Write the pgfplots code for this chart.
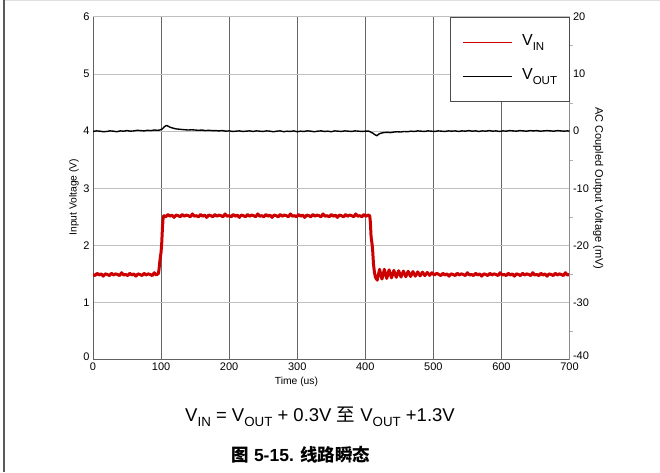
\documentclass[border=0pt]{standalone}
\usepackage{fontspec}
\setmainfont{Liberation Sans}
\newfontfamily\cjk{Noto Sans CJK SC}
\usepackage{pgfplots}
\pgfplotsset{compat=1.18}
\definecolor{vin}{RGB}{204,0,0}
\newcommand\sub[1]{\raisebox{-0.27em}{\scalebox{0.72}{#1}}}

\begin{document}
\begin{tikzpicture}[x=1pt,y=1pt]
\path[use as bounding box] (0,0) rectangle (660,472);
\draw[black!12] (4,471.5) -- (660,471.5);
\draw[black!65,line width=1.5pt] (4,0) -- (4,472);

\begin{axis}[
  at={(93pt,112.5pt)}, anchor=south west,
  width=476.5pt, height=342.5pt, scale only axis,
  xmin=0, xmax=700, ymin=0, ymax=6,
  xtick={0,100,...,700}, ytick={1,2,...,6},
  extra y ticks={0}, extra y tick style={grid=none, tick label style={yshift=2.5pt}},
  grid=major,
  x grid style={black!60, line width=1pt},
  y grid style={black!25, line width=1pt},
  axis x line*=bottom, axis y line*=left,
  axis line style={-, draw=black!62, line width=1pt},
  major tick length=0pt,
  tick label style={font=\fontsize{11}{13}\selectfont},
  /pgf/number format/assume math mode=true,
  xlabel={Time (us)}, ylabel={Input Voltage (V)},
  label style={font=\fontsize{10.3}{12}\selectfont},
  xlabel style={at={(axis description cs:0.427,0)}, anchor=center, yshift=-22pt},
  ylabel style={at={(axis description cs:-0.04,0.474)}, anchor=center},
]
\addplot[vin, line width=3pt, line join=round] coordinates {
(0,1.49)(3,1.47)(6,1.51)(9,1.48)(12,1.50)(15,1.46)(18,1.50)(21,1.49)(24,1.47)(27,1.51)
(30,1.48)(33,1.50)(36,1.49)(39,1.47)(42,1.52)(45,1.48)(48,1.49)(51,1.47)(54,1.51)(57,1.48)
(60,1.50)(63,1.46)(66,1.50)(69,1.49)(72,1.47)(75,1.51)(78,1.48)(81,1.50)(84,1.49)(87,1.47)
(90,1.52)(93,1.48)(95,1.50)
(96,1.50)(97,1.58)(98,1.70)(99,1.80)(100,1.88)(101,2.05)(102,2.30)(103,2.48)
(104,2.52)(107,2.50)(110,2.54)(113,2.51)(116,2.53)(119,2.49)(122,2.53)(125,2.52)
(128,2.50)(131,2.54)(134,2.51)(137,2.53)(140,2.52)(143,2.50)(146,2.55)(149,2.51)
(152,2.52)(155,2.50)(158,2.54)(161,2.51)(164,2.53)(167,2.49)(170,2.53)(173,2.52)
(176,2.50)(179,2.54)(182,2.51)(185,2.53)(188,2.52)(191,2.50)(194,2.55)(197,2.51)
(200,2.52)(203,2.50)(206,2.54)(209,2.51)(212,2.53)(215,2.49)(218,2.53)(221,2.52)
(224,2.50)(227,2.54)(230,2.51)(233,2.53)(236,2.52)(239,2.50)(242,2.55)(245,2.51)
(248,2.52)(251,2.50)(254,2.54)(257,2.51)(260,2.53)(263,2.49)(266,2.53)(269,2.52)
(272,2.50)(275,2.54)(278,2.51)(281,2.53)(284,2.52)(287,2.50)(290,2.55)(293,2.51)
(296,2.52)(299,2.50)(302,2.54)(305,2.51)(308,2.53)(311,2.49)(314,2.53)(317,2.52)
(320,2.50)(323,2.54)(326,2.51)(329,2.53)(332,2.52)(335,2.50)(338,2.55)(341,2.51)
(344,2.52)(347,2.50)(350,2.54)(353,2.51)(356,2.53)(359,2.49)(362,2.53)(365,2.52)
(368,2.50)(371,2.54)(374,2.51)(377,2.53)(380,2.52)(383,2.50)(386,2.55)(389,2.51)
(392,2.52)(395,2.50)(398,2.54)(401,2.51)(404,2.53)
(406.5,2.52)(407.5,2.40)(408.5,2.15)(410,2.02)(411,1.88)(412,1.68)(413.5,1.52)(415,1.44)(417.5,1.39)
(421,1.58)(424.5,1.41)(428,1.58)(431.5,1.42)(435,1.57)(438.5,1.43)(442,1.56)(445.5,1.44)
(449,1.555)(452.5,1.445)(456,1.55)(459.5,1.45)(463,1.545)(466.5,1.455)(470,1.54)(473.5,1.46)
(477,1.535)(480.5,1.465)(484,1.53)(487.5,1.47)(491,1.525)(494.5,1.475)(498,1.52)(501.5,1.48)(505,1.51)
(508,1.49)(511,1.47)(514,1.51)(517,1.48)(520,1.50)(523,1.46)(526,1.50)(529,1.49)
(532,1.47)(535,1.51)(538,1.48)(541,1.50)(544,1.49)(547,1.47)(550,1.52)(553,1.48)
(556,1.49)(559,1.47)(562,1.51)(565,1.48)(568,1.50)(571,1.46)(574,1.50)(577,1.49)
(580,1.47)(583,1.51)(586,1.48)(589,1.50)(592,1.49)(595,1.47)(598,1.52)(601,1.48)
(604,1.49)(607,1.47)(610,1.51)(613,1.48)(616,1.50)(619,1.46)(622,1.50)(625,1.49)
(628,1.47)(631,1.51)(634,1.48)(637,1.50)(640,1.49)(643,1.47)(646,1.52)(649,1.48)
(652,1.49)(655,1.47)(658,1.51)(661,1.48)(664,1.50)(667,1.46)(670,1.50)(673,1.49)
(676,1.47)(679,1.51)(682,1.48)(685,1.50)(688,1.49)(691,1.47)(694,1.52)(697,1.48)(700,1.49)
};
\end{axis}

\begin{axis}[
  at={(93pt,112.5pt)}, anchor=south west,
  width=476.5pt, height=342.5pt, scale only axis,
  xmin=0, xmax=700, ymin=-40, ymax=20,
  axis x line=none, axis y line*=right, xtick=\empty,
  ytick={-30,-20,...,20}, minor ytick={-35,-25,...,15},
  extra y ticks={-40}, extra y tick style={tick label style={yshift=4pt}},
  major tick length=0pt, minor tick length=3pt, tick align=outside,
  minor tick style={black!30},
  axis line style={-, draw=black!45, line width=1pt},
  tick label style={font=\fontsize{11}{13}\selectfont},
  /pgf/number format/assume math mode=true,
  ylabel={AC Coupled Output Voltage (mV)},
  ylabel style={font=\fontsize{11}{13}\selectfont, at={(axis description cs:1.06,0.5)}, anchor=center, rotate=180},
  legend image code/.code={\draw[#1,line width=1pt] (0pt,0pt) -- (49pt,0pt);},
  legend style={at={(rel axis cs:1,1)}, anchor=north east, draw=black!70, line width=0.8pt,
    fill=white, inner xsep=12pt, inner ysep=17pt, column sep=10pt, row sep=18pt,
    font=\fontsize{16}{18}\selectfont,
    nodes={inner sep=0pt, text width=35pt, text height=11.5pt, text depth=4.5pt}},
  legend cell align=left,
]
\addlegendimage{vin}
\addlegendentry{V\sub{IN}}
\addplot[black, line width=1.4pt, line join=round] coordinates {
(0,-0.05)(5,0.05)(10,0.0)(15,-0.1)(20,-0.05)(25,0.05)(30,0.0)(35,-0.1)(40,0.05)(45,0.0)
(50,0.1)(55,0.0)(60,0.05)(65,0.15)(70,0.1)(75,0.05)(80,0.15)(85,0.1)(90,0.2)(95,0.15)
(98,0.2)(102,0.4)(105,0.8)(108,1.0)(110,0.9)(113,0.7)(117,0.55)(122,0.4)(130,0.3)(135,0.25)
(140,0.2)(145,0.25)(150,0.2)(155,0.15)(160,0.2)(165,0.1)(170,0.15)(175,0.1)(180,0.1)(185,0.05)
(190,0.1)(195,0.0)(200,0.05)(205,-0.05)(210,0.0)(215,0.05)(220,-0.05)(225,0.0)(230,0.05)
(235,-0.05)(240,0.05)(245,0.0)(250,-0.05)(255,0.05)(260,0.0)(265,-0.1)(270,0.0)(275,0.05)
(280,-0.1)(285,0.0)(290,-0.05)(295,0.05)(300,-0.1)(305,0.0)(310,-0.05)(315,0.05)(320,0.0)
(325,-0.1)(330,0.0)(335,0.05)(340,-0.05)(345,0.0)(350,-0.1)(355,0.05)(360,0.0)(365,-0.05)
(370,0.05)(375,0.0)(380,-0.05)(385,0.05)(390,0.0)(395,-0.05)(400,0.0)(405,0.0)(408,-0.15)
(411,-0.35)(414,-0.6)(417,-0.8)(420,-0.5)(423,-0.35)(427,-0.25)(432,-0.2)(437,-0.25)(442,-0.15)
(447,-0.1)(452,-0.15)(457,-0.05)(462,-0.1)(467,0.0)(472,-0.05)(477,0.05)(482,0.0)(487,-0.05)
(492,0.05)(497,0.0)(502,-0.05)(507,0.05)(512,0.0)(517,-0.05)(522,0.05)(527,0.0)(532,0.05)
(537,-0.05)(542,0.05)(547,0.0)(552,0.1)(557,0.0)(562,0.05)(567,-0.05)(572,0.05)(577,0.0)
(582,0.1)(587,0.0)(592,0.05)(597,-0.05)(602,0.05)(607,0.0)(612,0.1)(617,0.05)(622,0.0)
(627,0.1)(632,0.05)(637,0.0)(642,0.1)(647,0.05)(652,0.1)(657,0.0)(662,0.05)(667,0.1)
(672,0.05)(677,0.0)(682,0.1)(687,0.05)(692,0.0)(697,0.05)(700,0.0)
};
\addlegendentry{V\sub{OUT}}
\end{axis}

\node[font=\fontsize{18.5}{22}\selectfont] at (320,55)
  {V\sub{IN} = V\sub{OUT} + 0.3V {\cjk 至} V\sub{OUT} +1.3V};
\node[font=\fontsize{17.5}{21}\selectfont\bfseries] at (301,17)
  {{\cjk 图} 5-15. {\cjk 线路瞬态}};
\end{tikzpicture}
\end{document}
